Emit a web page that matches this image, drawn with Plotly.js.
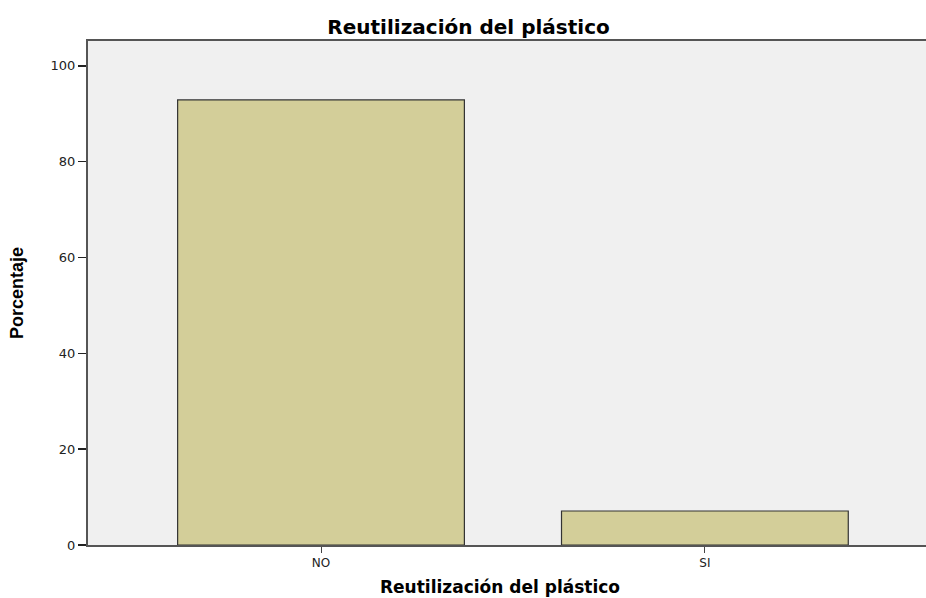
<!DOCTYPE html>
<html><head><meta charset="utf-8">
<script src="https://cdn.plot.ly/plotly-3.0.1.min.js"></script>
<style>body{margin:0;background:#fff}</style></head>
<body><div id="c" style="width:926px;height:598px"></div>
<script>
const categories = ["NO", "SI"];
const percentages = [92.9, 7.1];
const yTicks = [0, 20, 40, 60, 80, 100];
const dv = '"DejaVu Sans", Verdana, sans-serif';
Plotly.newPlot('c', [{
  type: 'bar', x: categories, y: percentages, width: 0.747,
  marker: {color: '#d3ce99', line: {color: '#333333', width: 1.2}},
  hoverinfo: 'none'
}], {
  width: 926, height: 598,
  margin: {l: 88, r: 0, t: 41, b: 53},
  paper_bgcolor: '#ffffff', plot_bgcolor: '#f0f0f0',
  showlegend: false,
  title: {text: '<b>Reutilización del plástico</b>', x: 0.506, xanchor: 'center', y: 0.955, yanchor: 'middle',
    font: {family: dv, size: 20, color: '#000'}},
  annotations: [{text: '<b>Reutilización del plástico</b>', xref: 'paper', yref: 'paper',
    x: 0.4916, y: -0.0833, xanchor: 'center', yanchor: 'middle', showarrow: false,
    font: {family: dv, size: 17, color: '#000'}}],
  xaxis: {type: 'category', range: [-0.607, 1.576], showgrid: false, zeroline: false,
    showline: true, linecolor: '#555', linewidth: 2, mirror: true,
    ticks: 'outside', ticklen: 6, tickcolor: '#444', tickwidth: 1,
    tickfont: {family: dv, size: 12, color: '#222'}},
  yaxis: {range: [0, 105.2], tickvals: yTicks, showgrid: false, zeroline: false,
    showline: true, linecolor: '#555', linewidth: 2,
    ticks: 'outside', ticklen: 8, tickcolor: '#222', tickwidth: 1.5,
    tickfont: {family: dv, size: 13, color: '#222'},
    title: {text: '<b>Porcentaje</b>', standoff: 22,
      font: {family: '"Liberation Sans", Arial, sans-serif', size: 18, color: '#000'}}}
}, {displayModeBar: false, staticPlot: true});
</script></body></html>
